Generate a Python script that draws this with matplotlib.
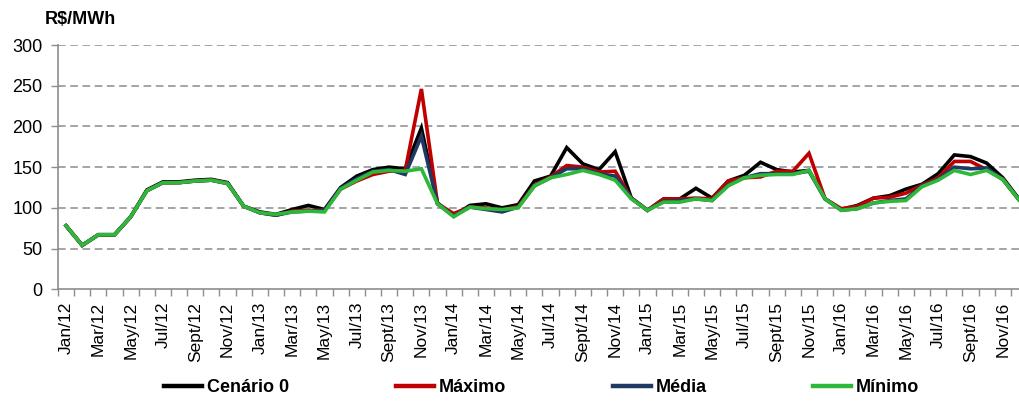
import matplotlib
matplotlib.use("Agg")
import matplotlib.pyplot as plt
import numpy as np

plt.rcParams['font.family'] = ['Liberation Sans', 'DejaVu Sans']

months = ["Jan", "Feb", "Mar", "Apr", "May", "Jun", "Jul", "Aug", "Sept", "Oct", "Nov", "Dec"]
years = ["12", "13", "14", "15", "16"]
categories = [f"{m}/{y}" for y in years for m in months]

cenario0 = [78, 54, 67, 67, 89, 122, 132, 132, 134, 135, 131, 102,
            95, 92, 98, 103, 98, 125, 139, 147, 150, 148, 198, 106,
            90, 103, 105, 100, 104, 133, 139, 174, 154, 147, 169, 112,
            97, 111, 111, 124, 112, 133, 140, 156, 147, 144, 146, 111,
            98, 103, 112, 115, 123, 129, 142, 165, 163, 155, 137, 111]
maximo = [78, 54, 67, 67, 89, 121, 131, 131, 133, 134, 130, 102,
          94, 91, 96, 97, 97, 123, 133, 141, 145, 146, 246, 105,
          93, 101, 100, 97, 102, 128, 138, 152, 150, 144, 145, 112,
          97, 111, 111, 112, 111, 133, 137, 138, 145, 145, 167, 111,
          99, 102, 112, 113, 118, 128, 137, 157, 157, 147, 135, 110]
media = [78, 54, 67, 67, 89, 121, 131, 131, 133, 134, 130, 102,
         94, 91, 95, 96, 97, 124, 136, 145, 147, 141, 188, 105,
         90, 101, 98, 95, 101, 127, 137, 148, 148, 142, 139, 112,
         97, 108, 109, 111, 109, 128, 137, 142, 142, 142, 145, 111,
         97, 99, 106, 109, 111, 127, 135, 150, 148, 149, 135, 110]
minimo = [78, 54, 67, 67, 89, 121, 131, 131, 133, 134, 130, 102,
          94, 92, 95, 96, 95, 123, 134, 144, 146, 145, 148, 105,
          89, 101, 99, 98, 100, 127, 137, 141, 146, 141, 134, 111,
          97, 107, 107, 111, 109, 127, 137, 140, 141, 141, 146, 111,
          97, 99, 106, 108, 109, 126, 134, 146, 141, 146, 135, 110]

series = [("Cenário 0", cenario0, "#000000"),
          ("Máximo", maximo, "#C00000"),
          ("Média", media, "#1F3864"),
          ("Mínimo", minimo, "#2DB83A")]

W, H = 1020, 403
fig = plt.figure(figsize=(W / 100, H / 100), dpi=100)
left = 58 / W
bottom = (H - 289.3) / H
height = (289.3 - 45) / H
width = 60 * 16.15 / W
ax = fig.add_axes([left, bottom, width, height])

x = np.arange(len(categories))
for name, vals, col in series:
    ax.plot(x, vals, color=col, lw=2.6, label=name, solid_joinstyle='miter')

ax.set_xlim(-0.5, len(categories) - 0.5)
ax.set_ylim(0, 300)
ax.set_yticks(np.arange(0, 301, 50))
for v in range(50, 301, 50):
    ax.axhline(v, color="#8C8C8C", lw=1.1, linestyle=(0, (5, 3)), zorder=0)

# x ticks: boundaries as major tick marks, labels at every 2nd month center
ax.set_xticks(np.arange(-0.5, len(categories), 1.0))
ax.set_xticklabels([])
ax.set_xticks(x[::2], minor=True)
ax.set_xticklabels(categories[::2], minor=True, rotation=90)
ax.tick_params(axis='x', which='major', length=5, color="#8C8C8C", width=1)
ax.tick_params(axis='x', which='minor', length=0, pad=9, labelsize=12.5)
ax.tick_params(axis='y', length=5, color="#8C8C8C", width=1, labelsize=13, pad=6)

for s in ["top", "right"]:
    ax.spines[s].set_visible(False)
for s in ["left", "bottom"]:
    ax.spines[s].set_color("#8C8C8C")
    ax.spines[s].set_linewidth(1.2)

fig.text(45 / W, 1 - 20 / H, "R$/MWh", ha="left", va="center",
         fontsize=13, fontweight="bold")

leg = fig.legend(loc="center left", bbox_to_anchor=(148 / W, 1 - 388 / H), ncol=4,
                 frameon=False, handlelength=2.1, handletextpad=0.28,
                 columnspacing=5.9, prop={"weight": "bold", "size": 13})
for line in leg.get_lines():
    line.set_linewidth(3.2)

fig.savefig("out.png", dpi=100)
